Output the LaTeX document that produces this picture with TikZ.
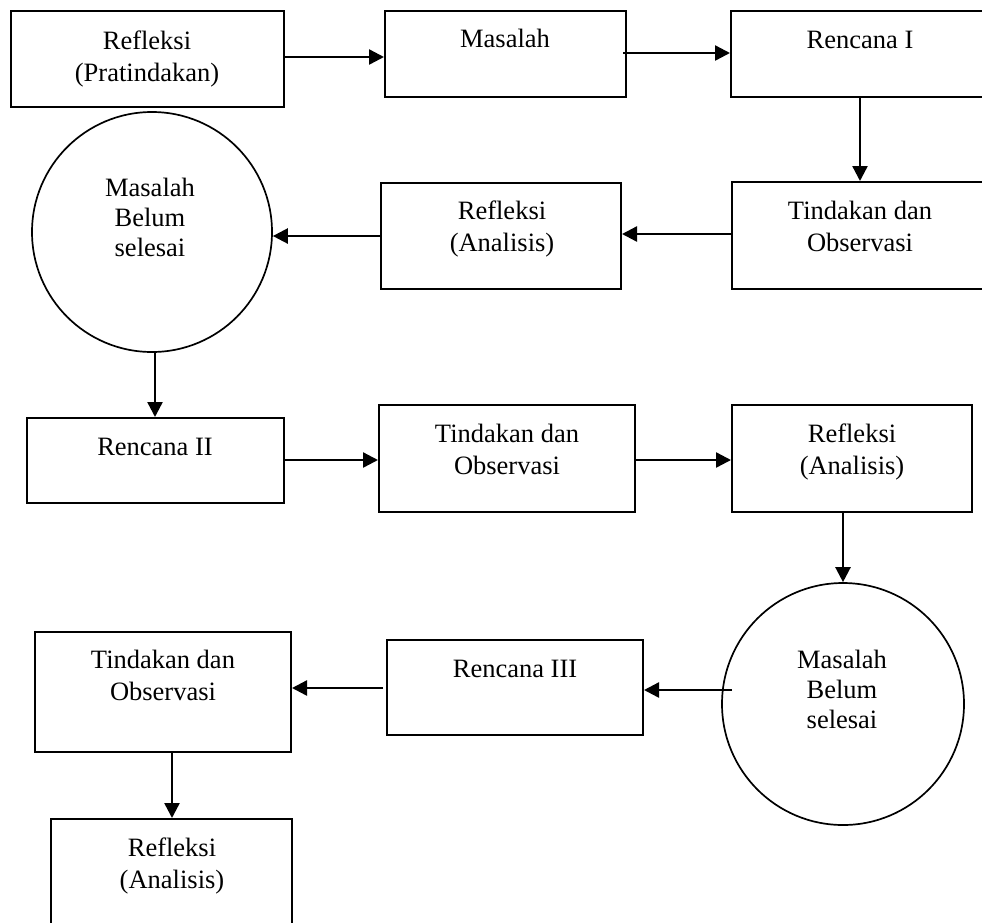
\documentclass[tikz,border=0pt]{standalone}
\usepackage{fontspec}
\setmainfont{Liberation Serif}
\usetikzlibrary{arrows.meta}
\begin{document}
\begin{tikzpicture}[x=1pt,y=-1pt,
  box/.style={draw, line width=2pt, rectangle, inner sep=0pt, minimum width=#1},
  circ/.style={draw, line width=1.7pt, circle, inner sep=0pt},
  txt/.style={align=center, inner sep=0pt, anchor=base, font=\fontsize{26.5}{32}\selectfont},
  ctxt/.style={align=center, inner sep=0pt, anchor=base, font=\fontsize{26.5}{30}\selectfont},
  arr/.style={line width=2.4pt, -{Triangle[length=15pt,width=15pt]}}]
\useasboundingbox (0,0) rectangle (982,922);
\clip (0,0) rectangle (982,922);
% boxes
\node[box=273pt, minimum height=96pt] (b1) at (147.5,59) {};
\node[box=241pt, minimum height=86pt] (b2) at (505.5,54) {};
\node[box=269pt, minimum height=86pt] (b3) at (865.5,54) {};
\node[box=268pt, minimum height=107pt] (b4) at (866,235.5) {};
\node[box=240pt, minimum height=106pt] (b5) at (501,236) {};
\node[circ, minimum size=240pt] (c1) at (152,232) {};
\node[box=257pt, minimum height=85pt] (b6) at (155.5,460.5) {};
\node[box=256pt, minimum height=107pt] (b7) at (507,458.5) {};
\node[box=240pt, minimum height=107pt] (b8) at (852,458.5) {};
\node[circ, minimum size=242pt] (c2) at (843,704) {};
\node[box=256pt, minimum height=95pt] (b9) at (515,687.5) {};
\node[box=256pt, minimum height=120pt] (b10) at (163,692) {};
\node[box=241pt, minimum height=121pt] (b11) at (171.5,879.5) {};
% texts (base anchor = baseline of last line)
\node[txt] (t1) at (147,81.5) {Refleksi\\(Pratindakan)};
\node[txt] (t2) at (505,47.5) {Masalah};
\node[txt] (t3) at (860,48.5) {Rencana I};
\node[txt] (t4) at (860,251.5) {Tindakan dan\\Observasi};
\node[txt] (t5) at (502,251.5) {Refleksi\\(Analisis)};
\node[ctxt] (tc1) at (150,256.5) {Masalah\\Belum\\selesai};
\node[txt] (t6) at (155,455.5) {Rencana II};
\node[txt] (t7) at (507,474) {Tindakan dan\\Observasi};
\node[txt] (t8) at (852,474) {Refleksi\\(Analisis)};
\node[ctxt] (tc2) at (842,728.5) {Masalah\\Belum\\selesai};
\node[txt] (t9) at (515,677.5) {Rencana III};
\node[txt] (t10) at (163,700.5) {Tindakan dan\\Observasi};
\node[txt] (t11) at (172,888.5) {Refleksi\\(Analisis)};
% connectors
\coordinate (s1) at (284,57);
\draw[arr] (s1) -- (s1 -| b2.west);
\coordinate (s2) at (623,53);
\draw[arr] (s2) -- (s2 -| b3.west);
\draw[arr] (b3.south -| t3) -- (b4.north -| t3);
\coordinate (s4) at (732,234);
\draw[arr] (s4) -- (s4 -| b5.east);
\coordinate (s5) at (381,236);
\draw[arr] (s5) -- (s5 -| c1.east);
\draw[arr] (c1.south -| 155,0) -- (b6.north -| 155,0);
\coordinate (s7) at (284,460);
\draw[arr] (s7) -- (s7 -| b7.west);
\coordinate (s8) at (635,460);
\draw[arr] (s8) -- (s8 -| b8.west);
\draw[arr] (b8.south -| c2.north) -- (c2.north);
\coordinate (s10) at (732,690);
\draw[arr] (s10) -- (s10 -| b9.east);
\coordinate (s11) at (383,688);
\draw[arr] (s11) -- (s11 -| b10.east);
\draw[arr] (b10.south -| 172,0) -- (b11.north -| 172,0);
\end{tikzpicture}
\end{document}
